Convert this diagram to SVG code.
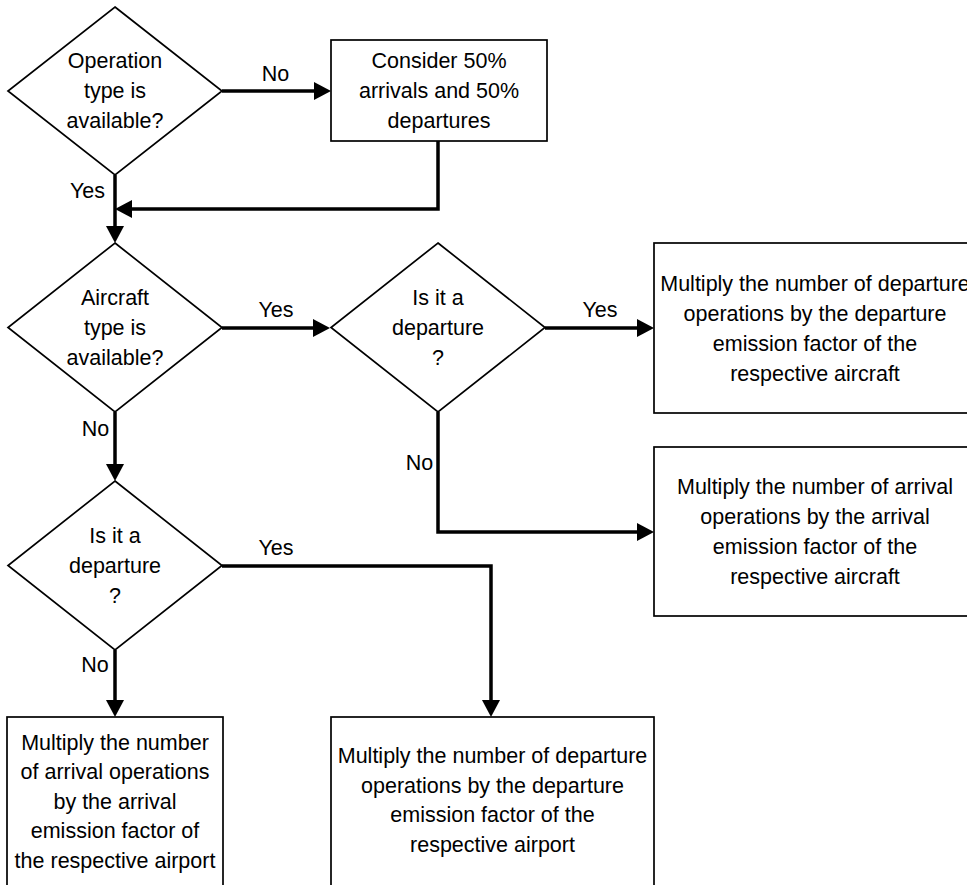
<svg xmlns="http://www.w3.org/2000/svg" width="967" height="885" viewBox="0 0 967 885">
<style>
  .shape { fill: #ffffff; stroke: #000000; stroke-width: 1.7; }
  .conn { fill: none; stroke: #000000; stroke-width: 3.5; }
  text { font-family: "Liberation Sans", Arial, sans-serif; font-size: 21.5px; fill: #000000; text-anchor: middle; }
</style>
<defs>
  <marker id="arrow" markerUnits="userSpaceOnUse" markerWidth="17" markerHeight="18" refX="7" refY="9" orient="auto" viewBox="0 0 17 18">
    <path d="M0,0 L17,9 L0,18 Z" fill="#000000"/>
  </marker>
</defs>
<rect width="967" height="885" fill="#ffffff"/>

<g id="connectors">
  <path class="conn" d="M222,91 H321" marker-end="url(#arrow)"/>
  <path class="conn" d="M115,175 V233" marker-end="url(#arrow)"/>
  <path class="conn" d="M438,141 V209 H125" marker-end="url(#arrow)"/>
  <path class="conn" d="M222,328 H320" marker-end="url(#arrow)"/>
  <path class="conn" d="M545,328 H644" marker-end="url(#arrow)"/>
  <path class="conn" d="M438,412 V532 H644" marker-end="url(#arrow)"/>
  <path class="conn" d="M115,412 V471" marker-end="url(#arrow)"/>
  <path class="conn" d="M222,566 H491 V707" marker-end="url(#arrow)"/>
  <path class="conn" d="M115,650 V707" marker-end="url(#arrow)"/>
</g>

<g id="labels">
  <text x="275.5" y="81">No</text>
  <text x="87.5" y="198">Yes</text>
  <text x="276" y="317">Yes</text>
  <text x="600" y="317">Yes</text>
  <text x="95.5" y="436">No</text>
  <text x="419.5" y="470">No</text>
  <text x="276" y="555">Yes</text>
  <text x="95" y="672">No</text>
</g>

<g id="d1">
  <polygon class="shape" points="115,7 222,91 115,175 8,91"/>
  <text x="115" y="68">Operation</text>
  <text x="115" y="98">type is</text>
  <text x="115" y="128">available?</text>
</g>

<g id="b1">
  <rect class="shape" x="331" y="40" width="216" height="101"/>
  <text x="439" y="68">Consider 50%</text>
  <text x="439" y="98">arrivals and 50%</text>
  <text x="439" y="128">departures</text>
</g>

<g id="d2">
  <polygon class="shape" points="115,243 222,327.5 115,412 8,327.5"/>
  <text x="115" y="305">Aircraft</text>
  <text x="115" y="335">type is</text>
  <text x="115" y="365">available?</text>
</g>

<g id="d3">
  <polygon class="shape" points="438,243 545,327.5 438,412 331,327.5"/>
  <text x="438" y="305">Is it a</text>
  <text x="438" y="335">departure</text>
  <text x="438" y="365">?</text>
</g>

<g id="b-tr">
  <rect class="shape" x="654" y="243" width="323" height="170"/>
  <text x="815" y="290.5">Multiply the number of departure</text>
  <text x="815" y="320.5">operations by the departure</text>
  <text x="815" y="350.5">emission factor of the</text>
  <text x="815" y="380.5">respective aircraft</text>
</g>

<g id="b-mr">
  <rect class="shape" x="654" y="447" width="323" height="169"/>
  <text x="815" y="494">Multiply the number of arrival</text>
  <text x="815" y="524">operations by the arrival</text>
  <text x="815" y="554">emission factor of the</text>
  <text x="815" y="584">respective aircraft</text>
</g>

<g id="d4">
  <polygon class="shape" points="115,481 222,565.5 115,650 8,565.5"/>
  <text x="115" y="543">Is it a</text>
  <text x="115" y="573">departure</text>
  <text x="115" y="603">?</text>
</g>

<g id="b-bl">
  <rect class="shape" x="7" y="717" width="216" height="180"/>
  <text x="115" y="749.5">Multiply the number</text>
  <text x="115" y="779">of arrival operations</text>
  <text x="115" y="808.5">by the arrival</text>
  <text x="115" y="838">emission factor of</text>
  <text x="115" y="867.5">the respective airport</text>
</g>

<g id="b-bm">
  <rect class="shape" x="331" y="717" width="323" height="180"/>
  <text x="492.5" y="763">Multiply the number of departure</text>
  <text x="492.5" y="792.5">operations by the departure</text>
  <text x="492.5" y="822">emission factor of the</text>
  <text x="492.5" y="851.5">respective airport</text>
</g>
</svg>
